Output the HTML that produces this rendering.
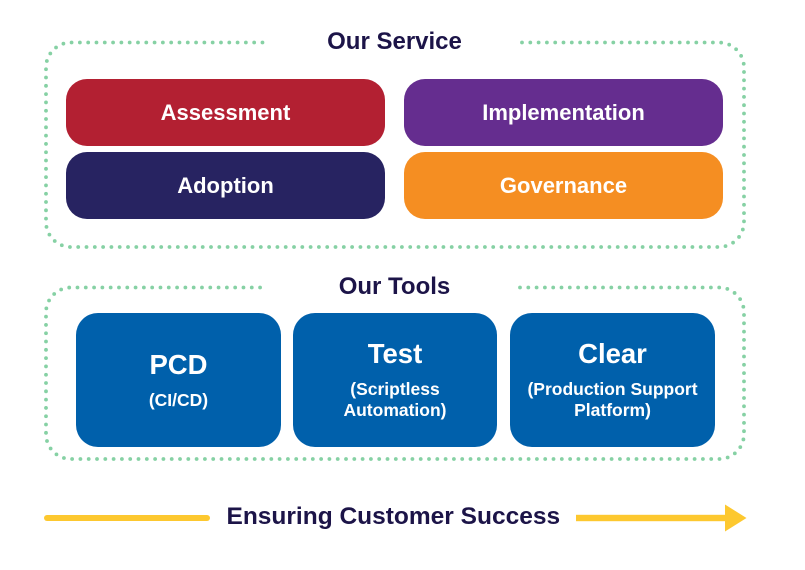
<!DOCTYPE html>
<html><head><meta charset="utf-8">
<style>
html,body{margin:0;padding:0;background:#fff;}
body{width:805px;height:570px;position:relative;overflow:hidden;font-family:"Liberation Sans",Arial,sans-serif;font-weight:bold;}
.t{position:absolute;white-space:nowrap;line-height:1;}
.box{position:absolute;display:flex;align-items:center;justify-content:center;color:#fff;font-size:22px;font-weight:bold;}
.tool{position:absolute;background:#0060AB;border-radius:22px;}
.c{position:absolute;left:0;right:0;text-align:center;color:#fff;line-height:1;white-space:nowrap;}
</style></head><body>
<svg width="805" height="570" style="position:absolute;left:0;top:0">
<g fill="none" stroke="#86D1A4" stroke-width="3.8" stroke-linecap="round" stroke-dasharray="0 8.3">
<path d="M522,42.5 H719 A25,25 0 0 1 744,67.5 V222 A25,25 0 0 1 719,247 H71 A25,25 0 0 1 46,222 V67.5 A25,25 0 0 1 71,42.5 H270"/>
<path d="M520,287.5 H719 A25,25 0 0 1 744,312.5 V434 A25,25 0 0 1 719,459 H71 A25,25 0 0 1 46,434 V312.5 A25,25 0 0 1 71,287.5 H268"/>
</g>
<rect x="44" y="515" width="166" height="6" rx="3" fill="#FDC82F"/>
<rect x="576" y="514.8" width="151" height="6.4" fill="#FDC82F"/>
<polygon points="725,504.5 746.5,518 725,531.5" fill="#FDC82F"/>
</svg>

<div class="t" style="left:0;width:789px;text-align:center;top:29.7px;font-size:24px;color:#1C1448">Our Service</div>

<div class="box" style="left:66px;top:79px;width:319px;height:67px;border-radius:21px;background:#B32032">Assessment</div>
<div class="box" style="left:404px;top:79px;width:319px;height:67px;border-radius:21px;background:#652D8F">Implementation</div>
<div class="box" style="left:66px;top:152px;width:319px;height:67px;border-radius:21px;background:#272361">Adoption</div>
<div class="box" style="left:404px;top:152px;width:319px;height:67px;border-radius:21px;background:#F58E22">Governance</div>

<div class="t" style="left:0;width:789px;text-align:center;top:274.7px;font-size:24px;color:#1C1448">Our Tools</div>

<div class="tool" style="left:76px;top:313px;width:205px;height:134px">
  <div class="c" style="top:37.5px;font-size:27.5px">PCD</div>
  <div class="c" style="top:78.5px;font-size:17.5px">(CI/CD)</div>
</div>
<div class="tool" style="left:293px;top:313px;width:204px;height:134px">
  <div class="c" style="top:26.5px;font-size:27.5px">Test</div>
  <div class="c" style="top:67.7px;font-size:17.5px">(Scriptless</div>
  <div class="c" style="top:88.7px;font-size:17.5px">Automation)</div>
</div>
<div class="tool" style="left:510px;top:313px;width:205px;height:134px">
  <div class="c" style="top:26.5px;font-size:27.5px">Clear</div>
  <div class="c" style="top:67.7px;font-size:17.5px">(Production Support</div>
  <div class="c" style="top:88.7px;font-size:17.5px">Platform)</div>
</div>

<div class="t" style="left:226.5px;top:505.3px;font-size:24.5px;color:#1C1448">Ensuring Customer Success</div>
</body></html>
